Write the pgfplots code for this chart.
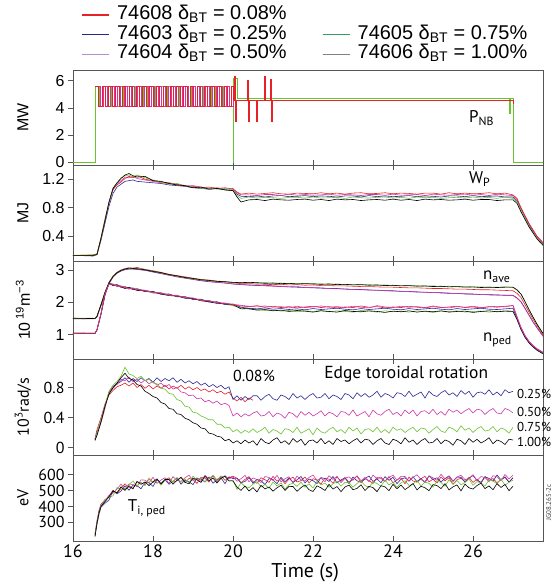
\documentclass[border=0pt]{standalone}
\usepackage{fontspec}
\setmainfont{Liberation Sans}
\newfontfamily\myriad{PT Sans}
\usepackage{pgfplots}
\usepackage{pgfplotstable}
\pgfplotsset{compat=1.18}

\definecolor{cR}{RGB}{232,32,40}
\definecolor{cB}{RGB}{45,40,150}
\definecolor{cM}{RGB}{205,55,170}
\definecolor{cG}{RGB}{105,195,45}
\definecolor{cK}{RGB}{0,0,0}
\definecolor{lB}{RGB}{40,40,130}
\definecolor{lM}{RGB}{185,140,205}
\definecolor{lG}{RGB}{50,160,100}
\definecolor{lK}{RGB}{130,130,130}
\definecolor{frm}{RGB}{85,85,85}

% stored energy W_P (MJ)
\pgfplotstableread{
t R B M G K
16.0 0.13 0.13 0.13 0.13 0.13
16.5 0.13 0.12 0.13 0.14 0.13
16.6 0.15 0.14 0.15 0.15 0.14
16.7 0.38 0.34 0.36 0.37 0.37
16.8 0.64 0.58 0.62 0.63 0.62
16.9 0.88 0.82 0.86 0.87 0.88
17.0 1.06 1.00 1.05 1.08 1.07
17.1 1.12 1.09 1.13 1.14 1.15
17.2 1.16 1.13 1.18 1.22 1.21
17.3 1.21 1.17 1.23 1.25 1.26
17.4 1.24 1.18 1.22 1.26 1.28
17.5 1.22 1.19 1.24 1.23 1.25
17.6 1.25 1.17 1.21 1.26 1.23
17.8 1.20 1.16 1.19 1.22 1.24
18.0 1.18 1.15 1.17 1.19 1.18
18.2 1.16 1.14 1.15 1.16 1.17
18.4 1.15 1.12 1.14 1.13 1.14
18.6 1.13 1.11 1.12 1.14 1.12
18.8 1.11 1.10 1.10 1.11 1.11
19.0 1.10 1.08 1.11 1.09 1.08
19.2 1.08 1.07 1.09 1.07 1.09
19.4 1.09 1.06 1.07 1.08 1.06
19.6 1.07 1.07 1.08 1.06 1.07
19.8 1.08 1.05 1.06 1.07 1.05
20.0 1.06 1.04 1.07 1.05 1.04
20.1 1.02 0.99 1.01 0.97 0.95
20.2 0.99 0.96 0.98 0.93 0.88
20.4 1.005 0.955 0.980 0.950 0.910
20.6 0.990 0.965 0.970 0.935 0.915
20.8 1.000 0.950 0.985 0.945 0.900
21.0 1.010 0.965 0.985 0.940 0.920
21.2 0.995 0.970 0.970 0.930 0.910
21.4 0.990 0.955 0.990 0.945 0.905
21.6 1.005 0.960 0.975 0.945 0.915
21.8 1.000 0.970 0.985 0.935 0.920
22.0 0.995 0.955 0.975 0.950 0.905
22.2 1.010 0.965 0.980 0.935 0.915
22.4 0.995 0.960 0.990 0.940 0.900
22.6 1.005 0.950 0.975 0.945 0.920
22.8 0.990 0.965 0.985 0.930 0.910
23.0 1.005 0.965 0.980 0.950 0.915
23.2 1.010 0.950 0.970 0.940 0.900
23.4 0.995 0.970 0.985 0.935 0.910
23.6 1.000 0.955 0.985 0.945 0.915
23.8 1.010 0.965 0.975 0.950 0.905
24.0 0.995 0.955 0.990 0.935 0.920
24.2 1.005 0.960 0.975 0.945 0.905
24.4 1.000 0.970 0.980 0.930 0.915
24.6 0.990 0.955 0.985 0.950 0.900
24.8 1.005 0.965 0.970 0.940 0.920
25.0 1.005 0.960 0.990 0.945 0.910
25.2 0.990 0.950 0.980 0.930 0.915
25.4 1.010 0.965 0.975 0.940 0.905
25.6 0.995 0.965 0.985 0.945 0.910
25.8 1.005 0.955 0.990 0.935 0.920
26.0 0.995 0.970 0.975 0.950 0.905
26.2 1.000 0.955 0.985 0.935 0.915
26.4 1.010 0.960 0.970 0.945 0.915
26.6 0.995 0.965 0.990 0.930 0.900
26.8 1.005 0.950 0.980 0.950 0.910
27.0 0.98 0.95 0.97 0.93 0.91
27.1 0.93 0.90 0.92 0.88 0.86
27.2 0.80 0.78 0.79 0.76 0.74
27.4 0.58 0.56 0.57 0.54 0.53
27.6 0.40 0.38 0.39 0.37 0.36
27.75 0.31 0.29 0.30 0.28 0.27
}\tWp

% densities: n_ave (a..) and n_ped (p..), 10^19 m^-3
\pgfplotstableread{
t aR aB aM aG aK pR pB pM pG pK
16.0 1.50 1.49 1.50 1.51 1.51 1.04 1.05 1.05 1.04 1.05
16.55 1.50 1.50 1.49 1.51 1.50 1.05 1.04 1.05 1.05 1.04
16.6 1.57 1.55 1.56 1.58 1.57 1.16 1.14 1.15 1.17 1.15
16.7 1.93 1.90 1.91 1.94 1.93 1.67 1.63 1.66 1.65 1.64
16.8 2.31 2.28 2.29 2.32 2.31 2.27 2.22 2.26 2.24 2.25
16.9 2.61 2.58 2.59 2.62 2.61 2.57 2.59 2.56 2.58 2.60
17.0 2.81 2.78 2.79 2.82 2.80 2.53 2.56 2.57 2.54 2.52
17.1 2.93 2.90 2.91 2.93 2.92 2.54 2.50 2.49 2.53 2.55
17.2 3.00 2.97 2.98 3.00 2.99 2.47 2.51 2.50 2.46 2.48
17.3 3.05 3.01 3.02 3.04 3.03 2.49 2.44 2.47 2.48 2.43
17.4 3.07 3.03 3.04 3.05 3.06 2.42 2.46 2.41 2.45 2.47
17.5 3.06 3.03 3.04 3.06 3.05 2.45 2.40 2.44 2.39 2.42
17.6 3.08 3.02 3.03 3.05 3.04 2.38 2.42 2.40 2.43 2.37
17.8 3.02 2.99 3.00 3.02 3.01 2.37 2.33 2.38 2.35 2.36
18.0 2.98 2.94 2.95 2.97 2.96 2.30 2.34 2.31 2.29 2.33
18.2 2.93 2.89 2.90 2.91 2.92 2.29 2.25 2.30 2.27 2.26
18.4 2.87 2.84 2.85 2.86 2.86 2.22 2.26 2.23 2.25 2.21
18.6 2.83 2.79 2.80 2.81 2.82 2.21 2.17 2.22 2.18 2.20
18.8 2.79 2.75 2.76 2.77 2.77 2.14 2.18 2.15 2.17 2.13
19.0 2.75 2.71 2.72 2.73 2.74 2.13 2.09 2.14 2.10 2.12
19.2 2.71 2.67 2.68 2.70 2.70 2.06 2.10 2.07 2.09 2.05
19.4 2.69 2.64 2.65 2.67 2.68 2.05 2.01 2.06 2.03 2.02
19.6 2.66 2.62 2.62 2.65 2.65 1.99 2.02 1.98 2.01 1.97
19.8 2.64 2.60 2.60 2.63 2.64 1.97 1.93 1.98 1.94 1.96
20.0 2.61 2.57 2.57 2.62 2.62 1.92 1.95 1.94 1.90 1.93
20.2 2.58 2.55 2.56 2.62 2.61 1.89 1.85 1.91 1.83 1.80
20.4 2.58 2.54 2.53 2.61 2.62 1.87 1.82 1.88 1.79 1.81
20.6 2.57 2.52 2.54 2.60 2.61 1.90 1.80 1.86 1.78 1.76
20.8 2.56 2.53 2.51 2.61 2.59 1.85 1.83 1.89 1.75 1.78
21.0 2.55 2.51 2.50 2.59 2.60 1.88 1.79 1.85 1.77 1.74
21.2 2.56 2.49 2.50 2.60 2.58 1.84 1.81 1.87 1.73 1.76
21.4 2.54 2.48 2.48 2.58 2.59 1.87 1.78 1.83 1.75 1.72
21.6 2.55 2.47 2.49 2.59 2.57 1.83 1.80 1.88 1.71 1.75
21.8 2.53 2.46 2.46 2.57 2.58 1.86 1.77 1.84 1.74 1.73
22.0 2.54 2.45 2.46 2.58 2.57 1.88 1.81 1.86 1.72 1.70
22.2 2.52 2.44 2.45 2.57 2.56 1.84 1.78 1.89 1.75 1.74
22.4 2.52 2.43 2.43 2.56 2.57 1.87 1.80 1.85 1.71 1.72
22.6 2.51 2.43 2.42 2.57 2.55 1.83 1.82 1.87 1.74 1.70
22.8 2.51 2.41 2.42 2.55 2.56 1.86 1.79 1.84 1.72 1.75
23.0 2.50 2.40 2.40 2.56 2.54 1.84 1.77 1.88 1.70 1.72
23.2 2.49 2.40 2.39 2.54 2.55 1.89 1.81 1.85 1.75 1.71
23.4 2.49 2.38 2.39 2.55 2.53 1.85 1.78 1.83 1.73 1.74
23.6 2.48 2.38 2.37 2.53 2.54 1.87 1.80 1.90 1.70 1.72
23.8 2.47 2.36 2.37 2.54 2.52 1.83 1.82 1.86 1.74 1.69
24.0 2.47 2.36 2.35 2.52 2.53 1.86 1.79 1.84 1.71 1.73
24.2 2.46 2.34 2.35 2.53 2.51 1.84 1.77 1.88 1.73 1.71
24.4 2.45 2.34 2.33 2.51 2.52 1.88 1.81 1.85 1.70 1.74
24.6 2.45 2.32 2.33 2.52 2.50 1.85 1.78 1.87 1.74 1.70
24.8 2.44 2.32 2.31 2.50 2.51 1.83 1.80 1.84 1.72 1.73
25.0 2.43 2.30 2.31 2.51 2.49 1.87 1.82 1.89 1.69 1.71
25.2 2.43 2.30 2.29 2.49 2.50 1.84 1.79 1.85 1.73 1.74
25.4 2.42 2.28 2.29 2.50 2.48 1.86 1.77 1.83 1.71 1.70
25.6 2.41 2.28 2.27 2.48 2.49 1.88 1.81 1.87 1.74 1.72
25.8 2.41 2.26 2.27 2.49 2.47 1.84 1.78 1.85 1.70 1.73
26.0 2.40 2.26 2.25 2.47 2.48 1.86 1.80 1.88 1.72 1.69
26.2 2.39 2.24 2.25 2.48 2.46 1.83 1.82 1.84 1.73 1.72
26.4 2.39 2.24 2.23 2.47 2.47 1.87 1.79 1.86 1.70 1.74
26.6 2.38 2.23 2.23 2.47 2.46 1.85 1.78 1.88 1.72 1.71
26.8 2.37 2.22 2.22 2.48 2.47 1.88 1.80 1.86 1.74 1.73
27.0 2.36 2.22 2.21 2.46 2.47 1.90 1.82 1.91 1.73 1.72
27.1 2.28 2.14 2.13 2.38 2.39 1.55 1.50 1.56 1.48 1.47
27.2 2.15 2.02 2.01 2.25 2.26 1.22 1.18 1.23 1.17 1.16
27.3 1.93 1.82 1.81 2.02 2.03 0.97 0.94 0.98 0.93 0.92
27.4 1.70 1.61 1.60 1.77 1.78 0.79 0.77 0.80 0.76 0.75
27.5 1.48 1.40 1.39 1.54 1.55 0.66 0.64 0.67 0.63 0.62
27.6 1.28 1.22 1.21 1.32 1.33 0.56 0.54 0.57 0.53 0.52
27.75 1.00 0.96 0.95 1.03 1.04 0.45 0.43 0.46 0.42 0.41
}\tDen

% edge toroidal rotation, 10^3 rad/s
\pgfplotstableread{
t B R M G K
16.55 0.10 0.12 0.09 0.11 0.10
16.6 0.20 0.24 0.18 0.19 0.16
16.7 0.36 0.40 0.33 0.37 0.34
16.8 0.56 0.58 0.52 0.57 0.55
16.9 0.73 0.70 0.74 0.75 0.71
17.0 0.79 0.76 0.82 0.83 0.80
17.1 0.85 0.81 0.84 0.88 0.86
17.2 0.88 0.83 0.91 0.95 0.93
17.3 0.93 0.86 0.89 1.07 0.99
17.4 0.87 0.82 0.94 0.98 0.92
17.5 0.92 0.86 0.88 0.96 0.90
17.6 0.88 0.80 0.91 0.92 0.84
17.7 0.93 0.84 0.86 0.95 0.82
17.8 0.89 0.79 0.90 0.89 0.75
17.9 0.92 0.83 0.85 0.91 0.72
18.0 0.87 0.78 0.88 0.86 0.68
18.1 0.93 0.82 0.83 0.85 0.66
18.2 0.88 0.79 0.86 0.79 0.60
18.3 0.92 0.83 0.81 0.78 0.58
18.4 0.89 0.78 0.84 0.72 0.52
18.5 0.93 0.82 0.78 0.71 0.51
18.6 0.87 0.79 0.80 0.64 0.45
18.7 0.91 0.83 0.74 0.62 0.44
18.8 0.86 0.78 0.73 0.55 0.39
18.9 0.89 0.81 0.69 0.54 0.37
19.0 0.85 0.77 0.70 0.47 0.33
19.1 0.88 0.80 0.65 0.46 0.31
19.2 0.83 0.76 0.66 0.42 0.26
19.3 0.86 0.78 0.61 0.40 0.25
19.4 0.81 0.74 0.63 0.37 0.19
19.5 0.84 0.77 0.59 0.37 0.18
19.6 0.80 0.73 0.62 0.31 0.15
19.7 0.83 0.75 0.57 0.31 0.14
19.8 0.78 0.71 0.59 0.26 0.09
19.9 0.81 0.74 0.56 0.27 0.11
20.0 0.64 0.66 0.42 0.21 0.06
20.1 0.69 0.62 0.46 0.24 0.09
20.2 0.63 0.67 0.41 0.19 0.05
20.3 0.68 0.61 0.45 0.23 0.10
20.4 0.64 0.66 0.42 0.20 0.06
20.5 0.69 0.63 0.46 0.25 0.09
20.6 0.69 nan 0.48 0.20 0.03
20.7 0.63 nan 0.42 0.23 0.12
20.8 0.68 nan 0.43 0.27 0.07
20.9 0.71 nan 0.48 0.19 0.05
21.0 0.65 nan 0.41 0.24 0.10
21.1 0.63 nan 0.46 0.22 0.13
21.2 0.70 nan 0.44 0.18 0.06
21.3 0.68 nan 0.39 0.25 0.09
21.4 0.64 nan 0.47 0.24 0.04
21.5 0.72 nan 0.45 0.20 0.12
21.6 0.66 nan 0.40 0.27 0.07
21.7 0.69 nan 0.48 0.19 0.11
21.8 0.64 nan 0.43 0.22 0.03
21.9 0.69 nan 0.47 0.25 0.09
22.0 0.72 nan 0.42 0.17 0.10
22.1 0.66 nan 0.45 0.26 0.06
22.2 0.67 nan 0.49 0.21 0.12
22.3 0.72 nan 0.42 0.19 0.05
22.4 0.65 nan 0.47 0.24 0.09
22.5 0.70 nan 0.45 0.27 0.04
22.6 0.68 nan 0.41 0.21 0.12
22.7 0.64 nan 0.48 0.24 0.08
22.8 0.72 nan 0.47 0.19 0.10
22.9 0.70 nan 0.43 0.27 0.05
23.0 0.65 nan 0.50 0.22 0.09
23.1 0.73 nan 0.42 0.26 0.12
23.2 0.68 nan 0.45 0.18 0.06
23.3 0.72 nan 0.48 0.24 0.11
23.4 0.67 nan 0.41 0.25 0.10
23.5 0.70 nan 0.50 0.21 0.04
23.6 0.75 nan 0.45 0.27 0.09
23.7 0.67 nan 0.43 0.20 0.12
23.8 0.72 nan 0.48 0.24 0.06
23.9 0.70 nan 0.51 0.19 0.04
24.0 0.66 nan 0.44 0.27 0.11
24.1 0.73 nan 0.47 0.23 0.09
24.2 0.72 nan 0.42 0.25 0.05
24.3 0.68 nan 0.50 0.20 0.13
24.4 0.75 nan 0.45 0.24 0.07
24.5 0.68 nan 0.50 0.27 0.10
24.6 0.71 nan 0.42 0.21 0.04
24.7 0.74 nan 0.48 0.26 0.09
24.8 0.66 nan 0.49 0.25 0.12
24.9 0.75 nan 0.45 0.19 0.06
25.0 0.70 nan 0.51 0.24 0.07
25.1 0.68 nan 0.44 0.28 0.12
25.2 0.73 nan 0.48 0.22 0.05
25.3 0.76 nan 0.43 0.20 0.10
25.4 0.70 nan 0.51 0.27 0.08
25.5 0.73 nan 0.47 0.25 0.03
25.6 0.68 nan 0.50 0.21 0.11
25.7 0.76 nan 0.45 0.29 0.09
25.8 0.71 nan 0.49 0.23 0.04
25.9 0.75 nan 0.52 0.26 0.12
26.0 0.67 nan 0.46 0.20 0.07
26.1 0.73 nan 0.51 0.25 0.11
26.2 0.74 nan 0.50 0.28 0.06
26.3 0.71 nan 0.44 0.22 0.09
26.4 0.77 nan 0.49 0.23 0.13
26.5 0.70 nan 0.52 0.28 0.05
26.6 0.74 nan 0.46 0.21 0.10
26.7 0.69 nan 0.45 0.26 0.08
26.8 0.77 nan 0.52 0.24 0.04
26.9 0.73 nan 0.50 0.19 0.11
27.0 0.75 nan 0.46 0.27 0.10
}\tRot

% pedestal ion temperature, eV
\pgfplotstableread{
t R B M G K
16.55 230 215 225 220 210
16.6 310 290 305 300 295
16.65 375 350 370 365 360
16.7 415 395 410 405 400
16.8 440 420 435 445 430
16.9 465 440 470 455 460
17.0 502 498 483 467 497
17.1 482 479 509 519 486
17.2 515 497 540 505 523
17.3 542 530 510 507 501
17.4 519 502 541 537 530
17.5 515 534 538 559 510
17.6 555 531 524 530 557
17.7 548 511 567 551 539
17.8 535 552 565 531 554
17.9 576 548 549 572 531
18.0 549 526 583 551 555
18.1 567 568 545 572 573
18.2 537 542 566 534 543
18.3 568 567 580 564 569
18.4 580 540 544 574 569
18.5 552 557 587 554 540
18.6 561 579 564 582 564
18.7 585 540 557 551 582
18.8 550 564 580 573 552
18.9 576 555 596 547 542
19.0 569 537 563 590 578
19.1 545 576 580 568 567
19.2 583 571 557 580 551
19.3 577 553 596 555 590
19.4 553 585 573 577 561
19.5 594 546 593 594 578
19.6 567 566 554 563 547
19.7 591 579 583 588 577
19.8 564 543 593 588 589
19.9 581 586 573 559 561
20.0 590 575 585 565 560
20.1 577 578 558 507 522
20.2 547 549 574 549 501
20.3 570 557 595 525 528
20.4 587 581 555 518 497
20.5 556 545 579 540 518
20.6 545 570 569 556 491
20.7 580 562 550 522 533
20.8 568 537 588 538 510
20.9 551 575 582 514 522
21.0 589 568 563 553 496
21.1 559 543 595 529 517
21.2 575 583 555 548 533
21.3 543 555 574 509 501
21.4 572 579 586 537 526
21.5 583 551 549 546 525
21.6 554 567 591 526 495
21.7 562 588 567 553 518
21.8 585 548 560 521 535
21.9 549 572 582 542 505
22.0 574 562 597 516 494
22.1 566 543 563 558 529
22.2 541 581 579 535 517
22.3 578 575 555 547 500
22.4 571 557 593 521 539
22.5 546 588 570 542 509
22.6 586 548 589 559 525
22.7 558 567 549 527 493
22.8 581 579 577 551 522
22.9 553 543 586 550 534
23.0 569 585 565 521 505
23.1 590 561 593 544 513
23.2 550 553 561 561 536
23.3 573 575 582 531 500
23.4 563 591 555 520 526
23.5 544 557 597 555 518
23.6 582 573 574 544 493
23.7 576 549 585 527 530
23.8 557 587 560 565 523
23.9 588 564 581 535 499
24.0 548 583 597 552 539
24.1 567 543 565 520 511
24.2 579 571 589 549 534
24.3 542 580 588 561 506
24.4 584 560 558 532 523
24.5 560 587 582 540 544
24.6 552 555 599 564 504
24.7 574 576 568 528 527
24.8 589 549 557 553 517
24.9 555 592 592 545 499
25.0 571 569 580 521 537
25.1 547 580 564 558 531
25.2 585 554 602 551 512
25.3 561 575 572 527 543
25.4 580 592 588 567 504
25.5 540 560 556 539 523
25.6 568 584 585 563 535
25.7 577 583 596 535 498
25.8 556 553 568 551 540
25.9 583 577 576 572 517
26.0 551 594 599 533 509
26.1 572 563 563 556 531
26.2 545 552 588 546 546
26.3 587 587 580 528 512
26.4 564 576 556 566 529
26.5 575 559 593 560 505
26.6 549 597 586 542 543
26.7 570 567 561 573 519
26.8 586 583 601 533 538
26.9 554 552 573 552 499
27.0 578 581 597 565 527
}\tTi

\pgfplotsset{
  panel/.style={
    scale only axis, width=470bp,
    xmin=16, xmax=27.75,
    xtick={16,18,...,26},
    xtick pos=both, xtick align=inside,
    ytick pos=left, ytick align=outside,
    major tick length=5bp,
    axis line style={frm, line width=0.7pt},
    tick style={frm, line width=0.7pt},
    clip mode=individual,
    unbounded coords=jump,
    /pgf/number format/assume math mode=true,
    yticklabel style={font=\fontsize{16}{18}\selectfont},
    xticklabel style={font=\myriad\fontsize{18}{20}\selectfont},
    ylabel style={at={(axis description cs:-0.1064,0.5)}, anchor=center, font=\fontsize{16}{18}\selectfont},
    every axis plot/.append style={line width=0.6pt},
  },
}
\tikzset{lab/.style={font=\myriad\fontsize{17}{19}\selectfont, inner sep=0pt}}

\begin{document}
\begin{tikzpicture}
\useasboundingbox (-73bp,70bp) rectangle (481bp,-514bp);

% ---------- panel 1: NBI power ----------
\begin{axis}[panel, name=p1, at={(0,0)}, anchor=north west,
  height=95bp, ymin=-0.22, ymax=6.8, ytick={0,2,4,6},
  xtick pos=bottom, xticklabels={}, ylabel={MW},
  legend columns=2, legend cell align=left,
  legend image code/.code={\draw[#1] (0bp,0bp) -- (27bp,0bp);},
  legend style={draw=none, fill=none, at={(axis description cs:0.0106,1.70)}, anchor=north west,
    font=\fontsize{20}{22}\selectfont,
    nodes={inner sep=0.5bp, text height=13.5bp, text depth=4.5bp},
    row sep=0.5bp,
    /tikz/every even column/.append style={column sep=35bp},
    /tikz/every odd column/.append style={column sep=7bp}},
]
\addlegendimage{color=cR, line width=1.5pt}
\addlegendentry{74608 δ\textsubscript{BT} = 0.08\%}
\addlegendimage{empty legend}
\addlegendentry{}
\addlegendimage{color=lB, line width=1pt}
\addlegendentry{74603 δ\textsubscript{BT} = 0.25\%}
\addlegendimage{color=lG, line width=1pt}
\addlegendentry{74605 δ\textsubscript{BT} = 0.75\%}
\addlegendimage{color=lM, line width=1pt}
\addlegendentry{74604 δ\textsubscript{BT} = 0.50\%}
\addlegendimage{color=lK, line width=1pt}
\addlegendentry{74606 δ\textsubscript{BT} = 1.00\%}

\addplot[color=cG, line width=0.8pt, const plot, forget plot] coordinates {
(16.0,0) (16.55,5.6) (16.67,4.1) (16.77,5.6) (16.87,4.1) (16.97,5.6) (17.07,4.1) (17.17,5.6)
(17.27,4.1) (17.37,5.6) (17.47,4.1) (17.57,5.6) (17.67,4.1) (17.77,5.6) (17.87,4.1) (17.97,5.6)
(18.07,4.1) (18.17,5.6) (18.27,4.1) (18.37,5.6) (18.47,4.1) (18.57,5.6) (18.67,4.1) (18.77,5.6)
(18.87,4.1) (18.97,5.6) (19.07,4.1) (19.17,5.6) (19.27,4.1) (19.37,5.6) (19.47,4.1) (19.57,5.6)
(19.67,4.1) (19.77,5.6) (19.87,4.1) (19.97,5.6) (20.0,0) (20.02,6.2) (20.1,4.72)
(26.9,3.6) (26.93,4.72) (27.0,0) (27.75,0)};
\addplot[color=cM, line width=0.8pt, const plot, forget plot] coordinates {
(16.55,5.6) (16.685,4.1) (16.77,5.6) (16.855,4.1) (16.94,5.6) (17.025,4.1) (17.11,5.6) (17.195,4.1)
(17.28,5.6) (17.365,4.1) (17.45,5.6) (17.535,4.1) (17.62,5.6) (17.705,4.1) (17.79,5.6) (17.875,4.1)
(17.96,5.6) (18.045,4.1) (18.13,5.6) (18.215,4.1) (18.3,5.6) (18.385,4.1) (18.47,5.6) (18.555,4.1)
(18.64,5.6) (18.725,4.1) (18.81,5.6) (18.895,4.1) (18.98,5.6) (19.065,4.1) (19.15,5.6) (19.235,4.1)
(19.32,5.6) (19.405,4.1) (19.49,5.6) (19.575,4.1) (19.66,5.6) (19.745,4.1) (19.83,5.6) (19.915,4.1)
(20.0,4.65)};
\addplot[color=cR, line width=1pt, const plot, forget plot] coordinates {
(16.55,5.6) (16.64,4.1) (16.725,5.6) (16.81,4.1) (16.895,5.6) (16.98,4.1) (17.065,5.6) (17.15,4.1)
(17.235,5.6) (17.32,4.1) (17.405,5.6) (17.49,4.1) (17.575,5.6) (17.66,4.1) (17.745,5.6) (17.83,4.1)
(17.915,5.6) (18.0,4.1) (18.085,5.6) (18.17,4.1) (18.255,5.6) (18.34,4.1) (18.425,5.6) (18.51,4.1)
(18.595,5.6) (18.68,4.1) (18.765,5.6) (18.85,4.1) (18.935,5.6) (19.02,4.1) (19.105,5.6) (19.19,4.1)
(19.275,5.6) (19.36,4.1) (19.445,5.6) (19.53,4.1) (19.615,5.6) (19.7,4.1) (19.785,5.6) (19.87,4.1)
(19.955,5.6) (20.0,4.55) (20.03,6.3) (20.06,3.0) (20.09,4.55) (20.37,6.0) (20.39,3.0) (20.41,4.55)
(20.59,3.0) (20.61,4.55) (20.79,6.3) (20.81,4.55) (20.94,6.1) (20.96,3.0) (20.98,4.55)
(26.98,4.55) (27.0,4.3)};
\node[lab, anchor=west] at (axis cs:25.9,3.25) {P\textsubscript{NB}};
\end{axis}

% ---------- panel 2: stored energy ----------
\begin{axis}[panel, name=p2, at={(p1.south west)}, anchor=north west,
  height=96bp, ymin=0.05, ymax=1.40, ytick={0.4,0.8,1.2},
  xticklabels={}, ylabel={MJ}]
\addplot[cB] table[x=t,y=B]{\tWp};
\addplot[cM] table[x=t,y=M]{\tWp};
\addplot[cR] table[x=t,y=R]{\tWp};
\addplot[cG] table[x=t,y=G]{\tWp};
\addplot[cK] table[x=t,y=K]{\tWp};
\node[lab, anchor=west] at (axis cs:25.9,1.2) {W\textsubscript{P}};
\end{axis}

% ---------- panel 3: densities ----------
\begin{axis}[panel, name=p3, at={(p2.south west)}, anchor=north west,
  height=98bp, ymin=0.25, ymax=3.28, ytick={1,2,3},
  xticklabels={}, ylabel={10\,\textsuperscript{19}m\textsuperscript{−3}}]
\addplot[cB] table[x=t,y=aB]{\tDen};
\addplot[cM] table[x=t,y=aM]{\tDen};
\addplot[cR] table[x=t,y=aR]{\tDen};
\addplot[cG] table[x=t,y=aG]{\tDen};
\addplot[cK] table[x=t,y=aK]{\tDen};
\addplot[cG] table[x=t,y=pG]{\tDen};
\addplot[cK] table[x=t,y=pK]{\tDen};
\addplot[cB] table[x=t,y=pB]{\tDen};
\addplot[cR] table[x=t,y=pR]{\tDen};
\addplot[cM] table[x=t,y=pM]{\tDen};
\node[lab, anchor=west] at (axis cs:26.25,2.79) {n\textsubscript{ave}};
\node[lab, anchor=west] at (axis cs:26.25,0.84) {n\textsubscript{ped}};
\end{axis}

% ---------- panel 4: edge toroidal rotation ----------
\begin{axis}[panel, name=p4, at={(p3.south west)}, anchor=north west,
  height=96bp, ymin=-0.1, ymax=1.18, ytick={0,0.4,0.8},
  xticklabels={},
  yticklabel style={font=\myriad\fontsize{16}{18}\selectfont},
  ylabel style={font=\myriad\fontsize{16}{18}\selectfont},
  ylabel={10\textsuperscript{3}rad/s}]
\addplot[cR] table[x=t,y=R]{\tRot};
\addplot[cB] table[x=t,y=B]{\tRot};
\addplot[cM] table[x=t,y=M]{\tRot};
\addplot[cG] table[x=t,y=G]{\tRot};
\addplot[cK] table[x=t,y=K]{\tRot};
\node[lab, anchor=west, font=\myriad\fontsize{16}{18}\selectfont] at (axis cs:20.0,0.96) {0.08\%};
\node[lab, font=\myriad\fontsize{17.5}{19}\selectfont] at (axis cs:24.33,0.98) {Edge toroidal rotation};
\node[lab, anchor=west, font=\myriad\fontsize{13}{15}\selectfont] at (axis cs:27.1,0.72) {0.25\%};
\node[lab, anchor=west, font=\myriad\fontsize{13}{15}\selectfont] at (axis cs:27.1,0.48) {0.50\%};
\node[lab, anchor=west, font=\myriad\fontsize{13}{15}\selectfont] at (axis cs:27.1,0.27) {0.75\%};
\node[lab, anchor=west, font=\myriad\fontsize{13}{15}\selectfont] at (axis cs:27.1,0.08) {1.00\%};
\end{axis}

% ---------- panel 5: pedestal ion temperature ----------
\begin{axis}[panel, name=p5, at={(p4.south west)}, anchor=north west,
  height=86bp, ymin=183, ymax=723, ytick={300,400,500,600},
  yticklabel style={font=\myriad\fontsize{16}{18}\selectfont},
  ylabel style={font=\myriad\fontsize{16}{18}\selectfont},
  ylabel={eV},
  xlabel={Time (s)},
  xlabel style={font=\myriad\fontsize{20}{22}\selectfont, at={(axis description cs:0.494,0)}, anchor=center, yshift=-32bp}]
\addplot[cR] table[x=t,y=R]{\tTi};
\addplot[cB] table[x=t,y=B]{\tTi};
\addplot[cM] table[x=t,y=M]{\tTi};
\addplot[cG] table[x=t,y=G]{\tTi};
\addplot[cK] table[x=t,y=K]{\tTi};
\node[lab, anchor=west] at (axis cs:17.37,390) {T\textsubscript{i, ped}};
\node[rotate=90, anchor=north, inner sep=0pt, font=\myriad\fontsize{7}{8}\selectfont, text=black!75] at ([xshift=3bp]axis description cs:1,0.45) {JG08.265-2c};
\end{axis}
\end{tikzpicture}
\end{document}
